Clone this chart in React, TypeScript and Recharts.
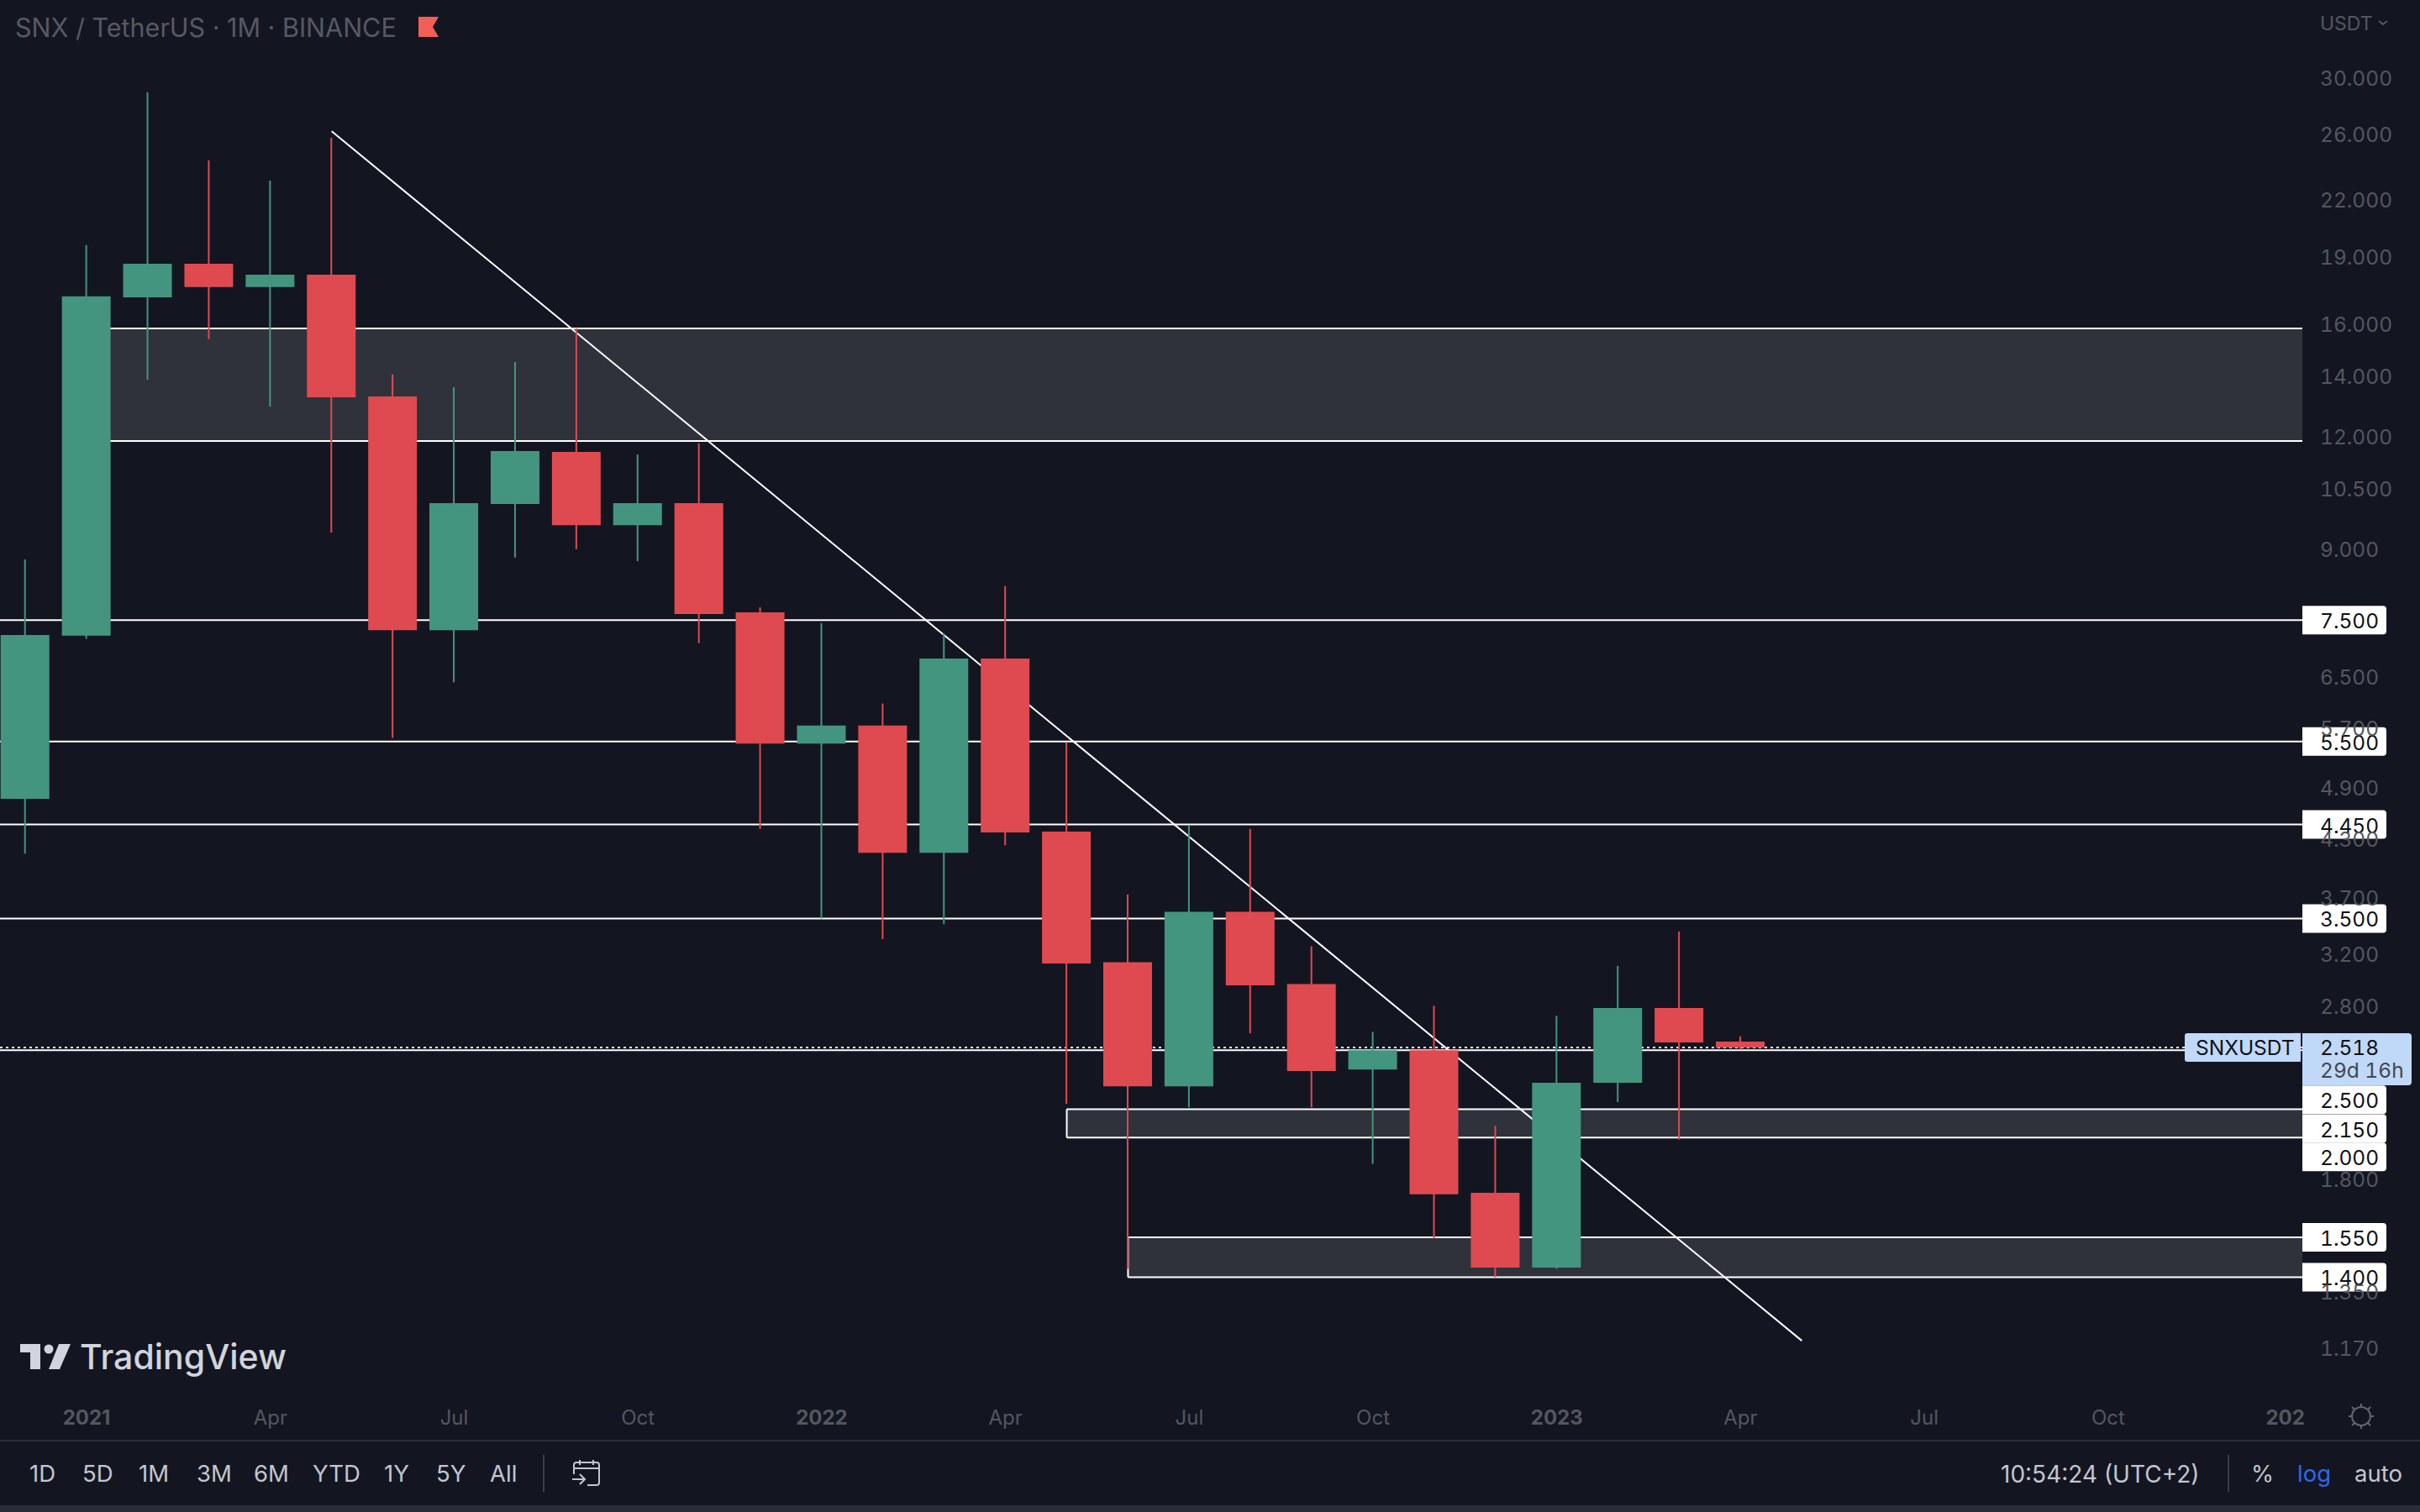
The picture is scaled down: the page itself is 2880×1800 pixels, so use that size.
import {
  ComposedChart,
  Bar,
  Cell,
  XAxis,
  YAxis,
  ReferenceArea,
  ReferenceLine,
} from "recharts";

const FONT = "Inter, sans-serif";
const BG = "#131620";
const UP = "#44957f";
const DOWN = "#df4a50";
const MUTED = "#54575f";
const TOOLBAR = "#c3c6ce";
const ZONE = "#2f323b";

// Dec 2020 -> Apr 2023, monthly
const months = [
  "Dec 20", "Jan 21", "Feb 21", "Mar 21", "Apr 21", "May 21", "Jun 21", "Jul 21", "Aug 21", "Sep 21",
  "Oct 21", "Nov 21", "Dec 21", "Jan 22", "Feb 22", "Mar 22", "Apr 22", "May 22", "Jun 22", "Jul 22",
  "Aug 22", "Sep 22", "Oct 22", "Nov 22", "Dec 22", "Jan 23", "Feb 23", "Mar 23", "Apr 23",
];
const opens = [
  4.75, 7.21, 17.11, 18.64, 17.56, 18.13, 13.28, 7.31, 10.09, 11.53,
  9.56, 10.11, 7.65, 5.47, 5.73, 4.14, 6.8, 4.37, 3.13, 2.28,
  3.56, 2.96, 2.38, 2.5, 1.737, 1.435, 2.3, 2.785, 2.556,
];
const highs = [
  8.76, 19.55, 28.88, 24.28, 23.05, 25.72, 14.05, 13.6, 14.5, 15.8,
  11.45, 11.78, 7.75, 7.44, 6.06, 7.25, 8.18, 5.49, 3.72, 4.44,
  4.4, 3.26, 2.62, 2.8, 2.06, 2.73, 3.1, 3.385, 2.59,
];
const lows = [
  4.13, 7.15, 13.86, 15.37, 12.94, 9.38, 5.55, 6.4, 8.8, 8.99,
  8.72, 7.07, 4.4, 3.5, 3.32, 3.45, 4.22, 2.18, 1.43, 2.16,
  2.61, 2.16, 1.87, 1.545, 1.4, 1.43, 2.19, 1.99, 2.505,
];
const closes = [
  7.22, 17.15, 18.64, 17.56, 18.13, 13.25, 7.31, 10.11, 11.55, 9.56,
  10.11, 7.62, 5.47, 5.73, 4.14, 6.8, 4.36, 3.12, 2.28, 3.56,
  2.95, 2.37, 2.5, 1.73, 1.435, 2.3, 2.785, 2.55, 2.518,
];

const priceTicks = [30, 26, 22, 19, 16, 14, 12, 10.5, 9, 6.5, 5.7, 4.9, 4.3, 3.7, 3.2, 2.8, 1.8, 1.35, 1.17];
const timeTicks = [1, 4, 7, 10, 13, 16, 19, 22, 25, 28, 31, 34, 37];
const timeLabels = ["2021", "Apr", "Jul", "Oct", "2022", "Apr", "Jul", "Oct", "2023", "Apr", "Jul", "Oct", "202"];
const yearLabels = ["2021", "2022", "2023", "202"];

const levels = [7.5, 5.5, 4.45, 3.5, 2.5];
const lastPrice = 2.518;

const rows = months.map((month, i) => ({
  i,
  month,
  wick: [lows[i], highs[i]],
  body: [Math.min(opens[i], closes[i]), Math.max(opens[i], closes[i])],
  up: closes[i] >= opens[i],
}));

const X_DOMAIN: [number, number] = [-0.414, 37.17];
const Y_DOMAIN: [number, number] = [1.0376, 36.57];

const numStyle = { fontFeatureSettings: '"tnum"' };

function tagPath(x: number, y: number, w: number, h: number) {
  const r = 4;
  return `M${x} ${y}H${x + w - r}q${r} 0 ${r} ${r}V${y + h - r}q0 ${r} -${r} ${r}H${x}Z`;
}

function LevelTag({ viewBox, text, shift = 0 }: any) {
  const x = viewBox.x + viewBox.width;
  const cy = viewBox.y + shift;
  return (
    <g>
      <path d={tagPath(x, cy - 17, 100, 34)} fill="#ffffff" />
      <text x={x + 21} y={cy + 10} fill="#0f1116" fontSize={24.5} fontFamily={FONT} style={numStyle}>
        {text}
      </text>
    </g>
  );
}

function LastPriceTag({ viewBox }: any) {
  const x = viewBox.x + viewBox.width;
  const top = viewBox.y - 17;
  return (
    <g>
      <rect x={x - 140} y={top} width={138} height={34} rx={3} fill="#c1d9f8" />
      <rect x={x - 10} y={top} width={8} height={34} fill="#c1d9f8" />
      <text x={x - 127} y={top + 26} fill="#0f1116" fontSize={24.5} fontFamily={FONT}>
        SNXUSDT
      </text>
      <path d={tagPath(x, top, 130, 62)} fill="#c1d9f8" />
      <text x={x + 21} y={top + 26} fill="#0f1116" fontSize={24.5} fontFamily={FONT} style={numStyle}>
        2.518
      </text>
      <text x={x + 21} y={top + 53} fill="#434751" fontSize={24.5} fontFamily={FONT} style={numStyle}>
        29d 16h
      </text>
    </g>
  );
}

function TimeTick({ x, y, index }: any) {
  const label = timeLabels[index];
  const bold = yearLabels.includes(label);
  return (
    <text
      x={label === "202" ? x - 8 : x}
      y={y + 28}
      textAnchor="middle"
      fill={MUTED}
      fontSize={24}
      fontWeight={bold ? 700 : 400}
      fontFamily={FONT}
    >
      {label}
    </text>
  );
}

function PriceTick({ x, y, payload }: any) {
  return (
    <text x={x} y={y + 10} fill={MUTED} fontSize={24.5} fontFamily={FONT} style={numStyle}>
      {payload.value.toFixed(3)}
    </text>
  );
}

function Txt({ x, y, size = 27.5, color = TOOLBAR, weight = 400, children }: any) {
  return (
    <div
      style={{
        position: "absolute",
        left: x,
        top: y,
        fontFamily: FONT,
        fontSize: size,
        fontWeight: weight,
        lineHeight: `${size}px`,
        color,
        whiteSpace: "pre",
        transform: "translateY(-50%)",
      }}
    >
      {children}
    </div>
  );
}

const ranges = [
  { t: "1D", x: 35 },
  { t: "5D", x: 98 },
  { t: "1M", x: 165 },
  { t: "3M", x: 234 },
  { t: "6M", x: 302 },
  { t: "YTD", x: 372 },
  { t: "1Y", x: 457 },
  { t: "5Y", x: 519 },
  { t: "All", x: 583 },
];

export default function App() {
  return (
    <div style={{ position: "absolute", left: 0, top: 0, width: 2880, height: 1800, background: BG, overflow: "hidden" }}>
      <ComposedChart
        width={2880}
        height={1715}
        data={rows}
        margin={{ top: 0, right: 0, bottom: 0, left: 0 }}
        style={{ position: "absolute", left: 0, top: 0 }}
      >
        <XAxis
          dataKey="i"
          type="number"
          domain={X_DOMAIN}
          allowDataOverflow
          ticks={timeTicks}
          interval={0}
          height={55}
          axisLine={false}
          tickLine={false}
          tick={<TimeTick />}
        />
        <XAxis xAxisId="wick" dataKey="i" type="number" domain={X_DOMAIN} allowDataOverflow hide />
        <YAxis
          orientation="right"
          scale="log"
          domain={Y_DOMAIN}
          allowDataOverflow
          ticks={priceTicks}
          interval={0}
          width={140}
          axisLine={false}
          tickLine={false}
          tickMargin={15}
          tick={<PriceTick />}
          zIndex={50}
        />

        <ReferenceArea x1={1} x2={X_DOMAIN[1]} y1={11.85} y2={15.8} fill={ZONE} fillOpacity={1} stroke="none" />
        <ReferenceArea x1={17} x2={X_DOMAIN[1]} y1={2.0} y2={2.15} fill={ZONE} fillOpacity={1} stroke="none" />
        <ReferenceArea x1={18} x2={X_DOMAIN[1]} y1={1.4} y2={1.55} fill={ZONE} fillOpacity={1} stroke="none" />

        <ReferenceLine segment={[{ x: 1, y: 15.8 }, { x: X_DOMAIN[1], y: 15.8 }]} stroke="#fff" strokeWidth={2} />
        <ReferenceLine segment={[{ x: 1, y: 11.85 }, { x: X_DOMAIN[1], y: 11.85 }]} stroke="#fff" strokeWidth={2} />
        <ReferenceLine segment={[{ x: 17, y: 2.15 }, { x: 17, y: 2.0 }]} stroke="#fff" strokeWidth={2} />
        <ReferenceLine segment={[{ x: 18, y: 1.55 }, { x: 18, y: 1.4 }]} stroke="#fff" strokeWidth={2} />

        <ReferenceLine
          segment={[{ x: 17, y: 2.15 }, { x: X_DOMAIN[1], y: 2.15 }]}
          stroke="#fff"
          strokeWidth={2}
          label={<LevelTag text="2.150" shift={23} />}
        />
        <ReferenceLine
          segment={[{ x: 17, y: 2.0 }, { x: X_DOMAIN[1], y: 2.0 }]}
          stroke="#fff"
          strokeWidth={2}
          label={<LevelTag text="2.000" shift={23} />}
        />
        <ReferenceLine
          segment={[{ x: 18, y: 1.55 }, { x: X_DOMAIN[1], y: 1.55 }]}
          stroke="#fff"
          strokeWidth={2}
          label={<LevelTag text="1.550" />}
        />
        <ReferenceLine
          segment={[{ x: 18, y: 1.4 }, { x: X_DOMAIN[1], y: 1.4 }]}
          stroke="#fff"
          strokeWidth={2}
          label={<LevelTag text="1.400" />}
        />

        {levels.map((lv) => (
          <ReferenceLine
            key={lv}
            y={lv}
            stroke="#fff"
            strokeWidth={2}
            label={<LevelTag text={lv.toFixed(3)} shift={lv === 2.5 ? 59 : 0} />}
          />
        ))}

        <ReferenceLine segment={[{ x: 5, y: 26.15 }, { x: 29, y: 1.19 }]} stroke="#fff" strokeWidth={2} />

        <ReferenceLine
          y={lastPrice}
          stroke="#e6edf8"
          strokeWidth={2}
          strokeDasharray="3 4"
          label={<LastPriceTag />}
        />

        <Bar dataKey="wick" xAxisId="wick" barSize={2} isAnimationActive={false} zIndex={600}>
          {rows.map((r) => (
            <Cell key={r.month} fill={r.up ? UP : DOWN} />
          ))}
        </Bar>
        <Bar dataKey="body" barSize={58} isAnimationActive={false} zIndex={610}>
          {rows.map((r) => (
            <Cell key={r.month} fill={r.up ? UP : DOWN} />
          ))}
        </Bar>
      </ComposedChart>

      {/* header */}
      <Txt x={18} y={33} size={30.5} color="#565963">SNX / TetherUS · 1M · BINANCE</Txt>
      <svg width={2880} height={1800} style={{ position: "absolute", left: 0, top: 0, pointerEvents: "none" }}>
        <path d="M498 20H522L515 32L522 44H498Z" fill="#f15f57" />
        <path d="M2831 25l5 4l5 -4" fill="none" stroke={MUTED} strokeWidth={2} />

        {/* logo */}
        <path d="M24 1600H48V1630H36V1610H24Z" fill="#d1d4dc" />
        <circle cx={58} cy={1606} r={5.5} fill="#d1d4dc" />
        <path d="M70 1600H84L71 1630H58Z" fill="#d1d4dc" />

        {/* sun */}
        <g stroke="#62656d" strokeWidth={2} fill="none">
          <circle cx={2810} cy={1686} r={11} />
          <path d="M2810 1671v4M2810 1697v4M2795 1686h4M2821 1686h4M2799 1675l3 3M2818 1694l3 3M2821 1675l-3 3M2802 1694l-3 3" />
        </g>

        {/* separators */}
        <rect x={0} y={1714} width={2880} height={2} fill="#2a2e39" />
        <rect x={0} y={1792} width={2880} height={8} fill="#2a2d39" />
        <rect x={646} y={1732} width={2} height={44} fill="#3a3d46" />
        <rect x={2651} y={1732} width={2} height={44} fill="#3a3d46" />

        {/* calendar */}
        <g stroke={TOOLBAR} strokeWidth={2} fill="none">
          <path d="M683 1755V1744q0 -3 3 -3H710q3 0 3 3V1765q0 3 -3 3H699" />
          <path d="M683 1748H713M690 1738v6M706 1738v6" />
          <path d="M681 1761H696M690 1755l6 6l-6 6" />
        </g>
      </svg>
      <Txt x={95} y={1615} size={41} weight={500} color="#d1d4dc">TradingView</Txt>
      <Txt x={2761} y={28} size={23}>
        <span style={{ color: MUTED }}>USDT</span>
      </Txt>

      {/* bottom toolbar */}
      {ranges.map((r) => (
        <Txt key={r.t} x={r.x} y={1755}>{r.t}</Txt>
      ))}
      <Txt x={2381} y={1755} size={28}>10:54:24 (UTC+2)</Txt>
      <Txt x={2679} y={1755}>%</Txt>
      <Txt x={2734} y={1755} color="#2f66f0">log</Txt>
      <Txt x={2802} y={1755}>auto</Txt>
    </div>
  );
}
